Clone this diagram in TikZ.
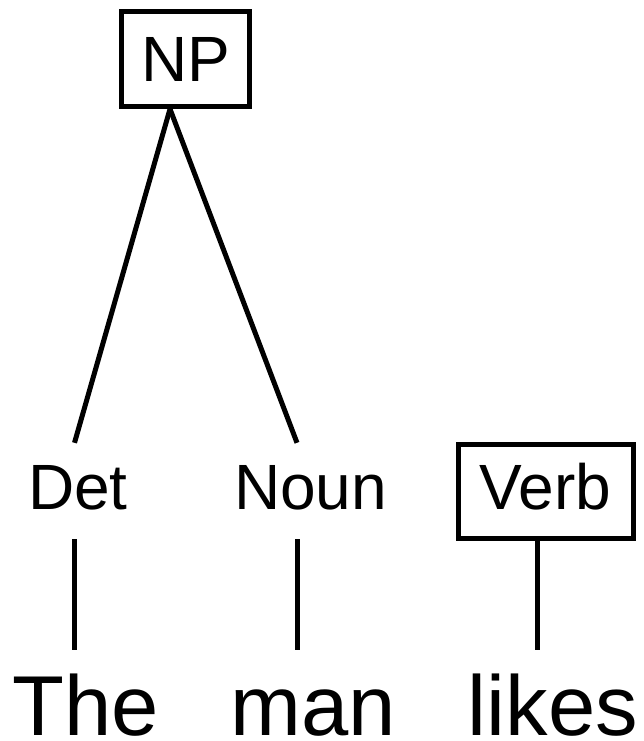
\documentclass[tikz,border=0pt]{standalone}
\usepackage{fontspec}
\setmainfont{Liberation Sans}
\newcommand{\catsize}{\fontsize{64}{64}\selectfont}
\newcommand{\wordsize}{\fontsize{85}{85}\selectfont}

\begin{document}
\begin{tikzpicture}[x=1pt,y=-1pt,
		cat/.style={font=\catsize,text height=46pt,text depth=10pt,inner xsep=0pt,inner ysep=20pt},
		catbox/.style={cat,draw,line width=5pt,inner ysep=0pt},
		word/.style={font=\wordsize,text height=62pt,text depth=0pt,inner sep=0pt},
		branch/.style={line width=5pt}]
		\useasboundingbox (0,0) rectangle (643,741);
		\node[catbox,text depth=0pt,minimum width=128pt,minimum height=95pt] (np) at (185.5,59) {NP};
		\node[cat] (det) at (77.8,491) {Det};
		\node[cat] (noun) at (310.5,491) {Noun};
		\node[catbox,minimum width=175pt,minimum height=93.5pt] (verb) at (545.5,491.25) {Verb};
		\node[word] (the) at (86,704) {The};
		\node[word] (man) at (313,704) {man};
		\node[word] (likes) at (553,704) {likes};
		\draw[branch] ([xshift=-15.5pt]np.south) -- ([xshift=-3.3pt]det.north);
		\draw[branch] ([xshift=-15.5pt]np.south) -- ([xshift=-13.5pt]noun.north);
		\draw[branch,shorten >=23pt] ([xshift=-3.3pt]det.south) -- ([xshift=-11.5pt]the.north);
		\draw[branch,shorten >=23pt] ([xshift=-13.5pt]noun.south) -- ([xshift=-16pt]man.north);
		\draw[branch,shorten >=23pt] ([xshift=-8pt]verb.south) -- ([xshift=-15.5pt]likes.north);
		\end{tikzpicture}
\end{document}
